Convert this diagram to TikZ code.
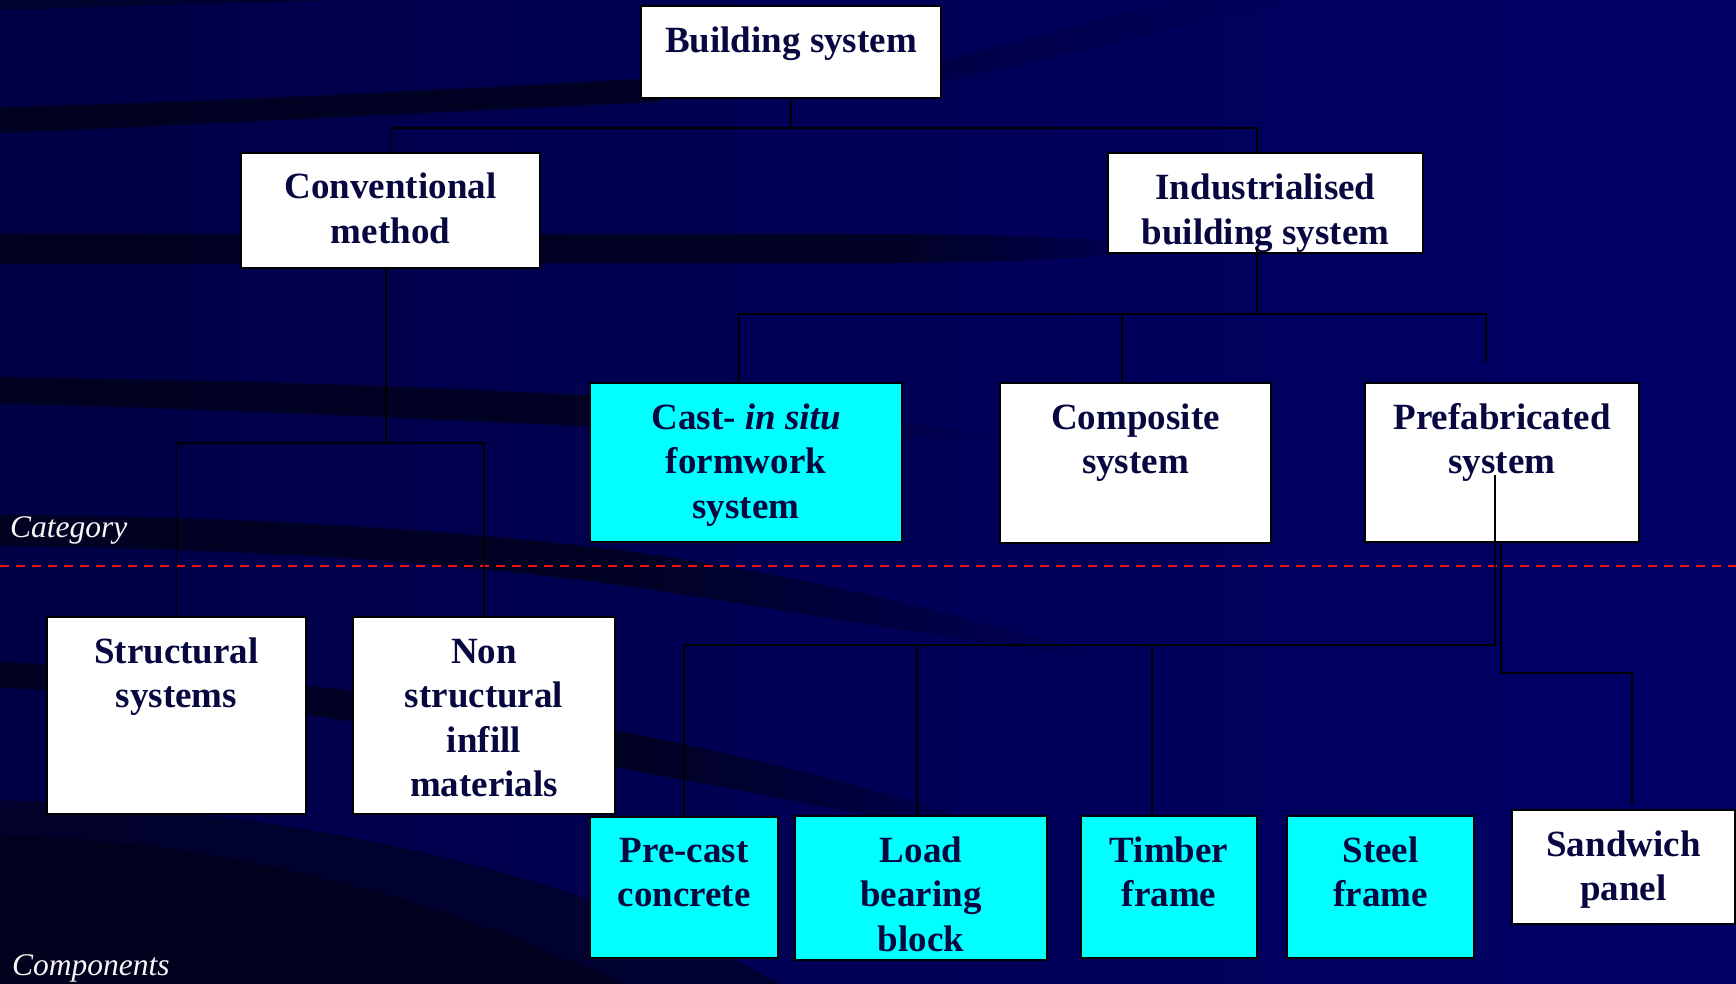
\documentclass[tikz,border=0pt]{standalone}
\usepackage{fontspec}
\setmainfont{Liberation Serif}
\usetikzlibrary{calc,fadings}
\definecolor{bgL}{RGB}{0,0,70}
\definecolor{bgR}{RGB}{0,0,102}
\definecolor{ink}{RGB}{8,8,64}
\definecolor{aqua}{RGB}{0,255,255}
\definecolor{divred}{RGB}{245,15,15}
\definecolor{streak}{RGB}{2,2,22}
\newcommand\boxlines[1]{\begin{tabular}[t]{@{}c@{}}#1\end{tabular}}

\begin{document}
\begin{tikzpicture}[x=1pt,y=-1pt,
  box/.style={draw=black, line width=1.4pt, inner sep=0pt, outer sep=0pt},
  wbox/.style={box, fill=white},
  cbox/.style={box, fill=aqua},
  label/.style={anchor=base, inner sep=0pt, text=ink, font=\fontsize{37}{44.5}\selectfont\bfseries},
  side/.style={anchor=base west, inner sep=0pt, text=white!94!gray, font=\fontsize{31.5}{36}\selectfont\itshape},
  conn/.style={draw=black, line width=1.8pt},
  bus/.style={draw=black, line width=2.6pt},
  dark/.style={fill=streak, opacity=0.75},
  tail/.style={fill=streak, opacity=0.75, path fading=east},
]
\useasboundingbox (0,0) rectangle (1736,984);

% backdrop
\fill[left color=bgL, right color=bgR] (0,0) rectangle (1736,984);

% dark swooshes
\fill[streak, opacity=0.5] (0,0) -- (340,0) .. controls (200,4) and (100,7) .. (0,10) -- cycle;
\fill[dark] (0,107) .. controls (220,102) and (430,90) .. (660,78) -- (660,102) .. controls (430,112) and (220,124) .. (0,133) -- cycle;
\fill[streak, opacity=0.25, path fading=east] (930,84) .. controls (1050,60) and (1180,25) .. (1300,0) -- (1180,0) .. controls (1100,20) and (1010,45) .. (930,62) -- cycle;
\fill[dark] (0,234) -- (900,234) -- (900,263) -- (0,264) -- cycle;
\fill[tail] (900,234) .. controls (1040,235) and (1130,240) .. (1180,248) .. controls (1130,256) and (1040,262) .. (900,263) -- cycle;
\fill[dark] (0,377) .. controls (250,380) and (450,388) .. (600,396) -- (600,427) .. controls (400,418) and (200,408) .. (0,404) -- cycle;
\fill[tail] (600,396) .. controls (800,410) and (920,422) .. (1010,440) .. controls (920,440) and (800,432) .. (600,427) -- cycle;
\fill[dark] (0,515) .. controls (250,516) and (450,530) .. (620,550) -- (620,585) .. controls (420,558) and (200,548) .. (0,546) -- cycle;
\fill[tail] (620,550) .. controls (800,575) and (950,610) .. (1110,660) .. controls (950,640) and (800,612) .. (620,585) -- cycle;
\fill[dark] (0,662) .. controls (250,672) and (480,705) .. (640,735) -- (640,772) .. controls (450,735) and (250,698) .. (0,688) -- cycle;
\fill[tail] (640,735) .. controls (800,768) and (940,805) .. (1060,850) .. controls (930,830) and (800,800) .. (640,772) -- cycle;
\fill[streak, opacity=0.55] (0,800) .. controls (260,808) and (560,860) .. (780,984) -- (0,984) -- cycle;
\fill[streak, opacity=0.65] (0,835) .. controls (200,840) and (430,890) .. (620,984) -- (0,984) -- cycle;

% divider between categories and components
\coordinate (divL) at (0,566);
\coordinate (divR) at (1736,566);
\draw[divred, line width=2.4pt, dash pattern=on 9pt off 7pt] (divL) -- (divR);

\node[side] (cat) at (10,537) {Category};
\node[side] (cmp) at (12,975) {Components};

% boxes
\node[wbox, minimum width=300pt, minimum height=92pt]  (b0)   at (791,52) {};
\node[wbox, minimum width=299pt, minimum height=115pt] (c1)   at (390.5,210.5) {};
\node[wbox, minimum width=315pt, minimum height=100pt] (i1)   at (1265.5,203) {};
\node[cbox, minimum width=312pt, minimum height=159pt] (cast) at (746,462.5) {};
\node[wbox, minimum width=271pt, minimum height=160pt] (comp) at (1135.5,463) {};
\node[wbox, minimum width=274pt, minimum height=159pt] (pf)   at (1502,462.5) {};
\node[wbox, minimum width=259pt, minimum height=197pt] (st)   at (176.5,715.5) {};
\node[wbox, minimum width=262pt, minimum height=197pt] (ns)   at (484,715.5) {};
\node[cbox, minimum width=188pt, minimum height=141pt] (pc)   at (684,887.5) {};
\node[cbox, minimum width=252pt, minimum height=144pt] (lb)   at (921,888) {};
\node[cbox, minimum width=176pt, minimum height=142pt] (tf)   at (1169,887) {};
\node[cbox, minimum width=187pt, minimum height=142pt] (sf)   at (1380.5,887) {};
\node[wbox, minimum width=223pt, minimum height=114pt] (sp)   at (1623.5,867) {};

% box texts, first baseline 46pt below each box top
\node[label] (b0t)   at (791,53)      {\boxlines{Building system}};
\node[label] (c1t)   at (390.5,199)   {\boxlines{Conventional\\method}};
\node[label] (i1t)   at (1265.5,200)  {\boxlines{Industrialised\\building system}};
\node[label] (castt) at (746,429)     {\boxlines{Cast- \textit{in situ}\\formwork\\system}};
\node[label] (compt) at (1135.5,429)  {\boxlines{Composite\\system}};
\node[label] (pft)   at (1502,429)    {\boxlines{Prefabricated\\system}};
\node[label] (stt)   at (176.5,663)   {\boxlines{Structural\\systems}};
\node[label] (nst)   at (484,663)     {\boxlines{Non\\structural\\infill\\materials}};
\node[label] (pct)   at (684,862)     {\boxlines{Pre-cast\\concrete}};
\node[label] (lbt)   at (921,862)     {\boxlines{Load\\bearing\\block}};
\node[label] (tft)   at (1169,862)    {\boxlines{Timber\\frame}};
\node[label] (sft)   at (1380.5,862)  {\boxlines{Steel\\frame}};
\node[label] (spt)   at (1623.5,856)  {\boxlines{Sandwich\\panel}};

% connector levels and columns
\coordinate (busA) at (0,128);
\coordinate (busB) at (0,443);
\coordinate (busC) at (0,314);
\coordinate (busD) at (0,645);
\coordinate (busE) at (0,673);
\coordinate (xI)  at (1257,0);
\coordinate (xC)  at (386,0);
\coordinate (xCP) at (739,0);
\coordinate (xCM) at (1122,0);
\coordinate (xPF) at (1486,0);
\coordinate (xP1) at (1495,0);
\coordinate (xP2) at (1501,0);
\coordinate (xLB) at (917,0);
\coordinate (xTF) at (1152,0);
\coordinate (xSP) at (1632,0);
\coordinate (pfEnd) at (1486,362);
\coordinate (spEnd) at (1632,805);
\coordinate (i1Up)  at (1257,248);
\coordinate (pfUp)  at (1495,475);

% connectors
\draw[conn] (b0.south) -- (b0.south |- busA);
\draw[conn] (c1.north) -- (c1.north |- busA) -- (busA -| xI) -- (i1.north -| xI);
\draw[conn] (c1.south -| xC) -- (busB -| xC);
\draw[conn] (st.north) -- (st.north |- busB) -- (ns.north |- busB) -- (ns.north);
\draw[bus]  (i1Up) -- (busC -| xI);
\draw[conn] (cast.north -| xCP) -- (busC -| xCP) -- (busC -| xPF) -- (pfEnd);
\draw[conn] (busC -| xCM) -- (comp.north -| xCM);
\draw[bus]  (pfUp) -- (busD -| xP1) -- (busD -| pc.north) -- (pc.north);
\draw[conn] (busD -| xLB) -- (lb.north -| xLB);
\draw[conn] (busD -| xTF) -- (tf.north -| xTF);
\draw[conn] (pf.south -| xP2) -- (busE -| xP2) -- (busE -| xSP) -- (spEnd);
\end{tikzpicture}
\end{document}
